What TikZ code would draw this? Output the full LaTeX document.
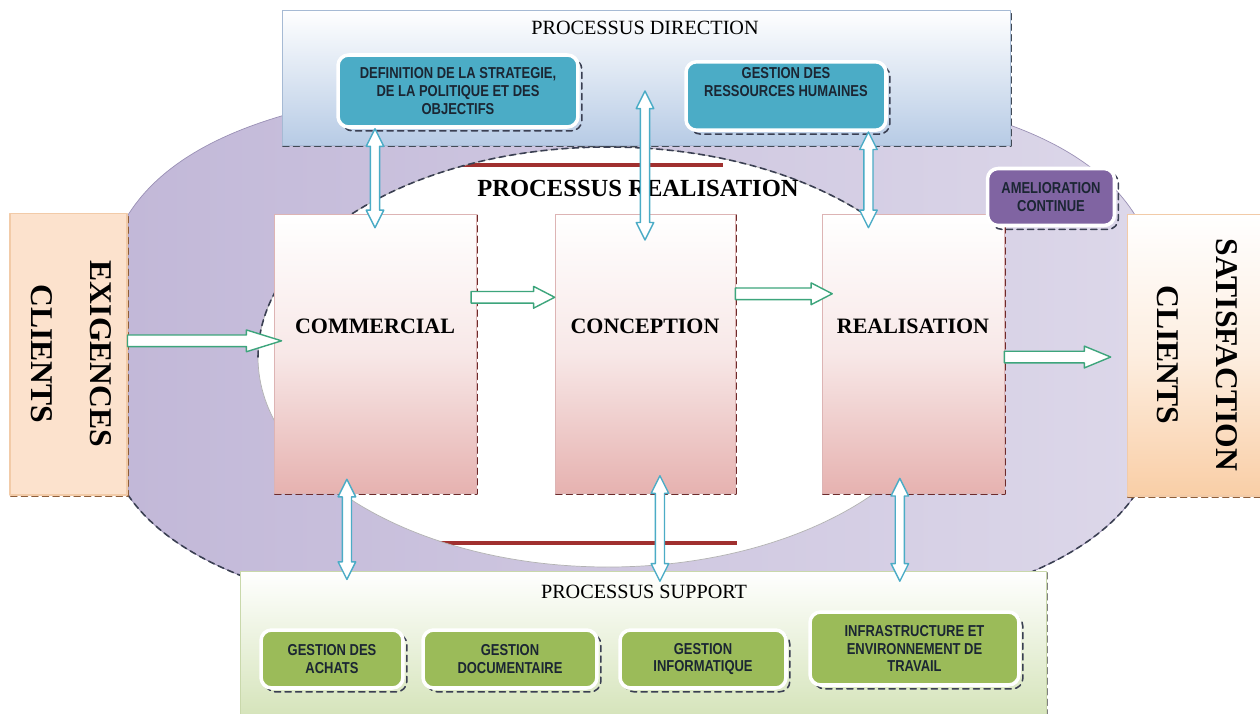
\documentclass[tikz,border=0pt]{standalone}
\usepackage{graphicx}
\usepackage{fontspec}
\setmainfont{Liberation Serif}
\newfontfamily\lblfont{Liberation Sans}[FakeStretch=0.82]
\usetikzlibrary{calc}
\definecolor{ovaldark}{HTML}{C2B8D8}
\definecolor{ovallight}{HTML}{DCD7E9}
\definecolor{ovalline}{HTML}{9A90B5}
\definecolor{dashgray}{HTML}{3A3F52}
\definecolor{barred}{HTML}{A0302F}
\definecolor{dirblue}{HTML}{B7CBE5}
\definecolor{dirline}{HTML}{A6BAD4}
\definecolor{dirteal}{HTML}{4BACC6}
\definecolor{procpink}{HTML}{E6B2B0}
\definecolor{procline}{HTML}{DDB4B4}
\definecolor{procdash}{HTML}{6E2A2A}
\definecolor{exigfill}{HTML}{FCE2CD}
\definecolor{satpeach}{HTML}{F9CEA6}
\definecolor{clientline}{HTML}{F2CBA8}
\definecolor{clientdash}{HTML}{8E5E3A}
\definecolor{suppgreen}{HTML}{D4E3B8}
\definecolor{suppline}{HTML}{C9D8AB}
\definecolor{taskgreen}{HTML}{9BBB59}
\definecolor{amelpurple}{HTML}{8064A2}
\definecolor{flowgreen}{HTML}{3DA57C}
\definecolor{inkdark}{HTML}{1B2633}
\tikzset{
  dshadow/.style={preaction={draw=#1, line width=0.9pt, dash pattern=on 3.5pt off 2.5pt,
      transform canvas={shift={(2.2pt,-2.2pt)}}}},
  dedge/.style={preaction={draw=#1, line width=0.9pt, dash pattern=on 3.5pt off 2.5pt,
      transform canvas={shift={(0.45pt,-0.45pt)}}}},
  hdr/.style={font=\fontsize{11.5}{13}\selectfont},
  procbox/.style={draw=procline, line width=0.4pt, top color=white, bottom color=procpink,
      middle color=procpink!30, dedge=procdash, minimum width=#1, minimum height=5.58cm,
      text depth=31pt, font=\fontsize{12.5}{14}\selectfont\bfseries},
  clientbox/.style={draw=clientline, line width=0.6pt, dedge=clientdash,
      font=\fontsize{18}{21.6}\selectfont\bfseries},
  taskbox/.style={rounded corners=6pt, draw=white, line width=2pt, dshadow=dashgray,
      align=center, text=inkdark, font=\lblfont\bfseries\fontsize{9}{10}\selectfont},
  ovaldash/.style={draw=dashgray, line width=0.9pt, dash pattern=on 3.5pt off 2.5pt},
  redbar/.style={draw=barred, line width=2.4pt, line cap=butt},
  flowarr/.style={draw=flowgreen, fill=white, line width=0.8pt},
  linkarr/.style={draw=dirteal, fill=white, line width=0.8pt},
}
\newcommand\hflow[3][12pt]{%
  \path[flowarr] let \p1=#2, \p2=#3 in
    (\x1,\y1+3.3pt) -- (\x2-#1,\y1+3.3pt) -- (\x2-#1,\y1+6.2pt) -- (\x2,\y1)
    -- (\x2-#1,\y1-6.2pt) -- (\x2-#1,\y1-3.3pt) -- (\x1,\y1-3.3pt) -- cycle;}
\newcommand\vlink[2]{%
  \path[linkarr] let \p1=#1, \p2=#2 in
    (\x1,\y1) -- (\x1+5pt,\y1-10pt) -- (\x1+2.6pt,\y1-10pt) -- (\x1+2.6pt,\y2+10pt)
    -- (\x1+5pt,\y2+10pt) -- (\x1,\y2) -- (\x1-5pt,\y2+10pt) -- (\x1-2.6pt,\y2+10pt)
    -- (\x1-2.6pt,\y1-10pt) -- (\x1-5pt,\y1-10pt) -- cycle;}
\begin{document}
\begin{tikzpicture}[line cap=round,line join=round,x=0.02cm,y=-0.02cm]
        \useasboundingbox (0,0) rectangle (1260,713);
        % large oval behind everything
        \shadedraw [draw=ovalline, line width=0.4pt, left color=ovaldark, right color=ovallight] (128,215) .. controls (200,100) and (420,80) .. (632,80) .. controls (845,80) and (1063,100) .. (1135,215) -- (1135,495) .. controls (1063,600) and (845,630) .. (632,630) .. controls (420,630) and (200,600) .. (128,495) -- cycle;
        \draw [ovaldash] (128,495) .. controls (200,600) and (420,630) .. (632,630);
        \draw [ovaldash] (1135,495) .. controls (1063,600) and (845,630) .. (632,630);
        \fill [white] (608,357) ellipse [x radius=350, y radius=210];
        \begin{scope}
          \clip (608,357) ellipse [x radius=350, y radius=210];
          \draw [redbar] (447,165) -- (723,165);
          \draw [redbar] (433,543) -- (737,543);
        \end{scope}
        \draw [draw=gray!60, line width=0.4pt] (608,357) ellipse [x radius=350, y radius=210];
        \draw [ovaldash] (258,357) arc [start angle=180, end angle=360, x radius=350, y radius=210];
        % direction
        \node [draw=dirline, line width=0.4pt, top color=white, bottom color=dirblue, dedge=dirline!40!black, minimum width=14.56cm, minimum height=2.7cm] (dir) at (646,77.5) {};
        \node [hdr] (dirhdr) at (645,28) {PROCESSUS DIRECTION};
        \node [taskbox, fill=dirteal, minimum width=4.8cm, minimum height=1.44cm] (defn) at (458,91) {DEFINITION DE LA STRATEGIE,\\DE LA POLITIQUE ET DES\\OBJECTIFS};
        \node [taskbox, fill=dirteal, minimum width=4cm, minimum height=1.36cm, text depth=16pt] (grh) at (786,96) {GESTION DES\\RESSOURCES HUMAINES};
        \node [font=\fontsize{14}{16}\selectfont\bfseries] (realhdr) at (638,188) {PROCESSUS REALISATION};
        % clients
        \node [clientbox, fill=exigfill, minimum width=2.34cm, minimum height=5.64cm] (exig) at (68.5,354) {\rotatebox{-90}{\begin{tabular}{@{}c@{}}EXIGENCES\\[12pt]CLIENTS\end{tabular}}};
        \node [clientbox, top color=white, bottom color=satpeach, middle color=satpeach!35, minimum width=2.7cm, minimum height=5.64cm] (sat) at (1194.5,355) {\rotatebox{-90}{\begin{tabular}{@{}c@{}}SATISFACTION\\[12pt]CLIENTS\end{tabular}}};
        % realisation
        \node [procbox=4.04cm] (comm) at (375,353.5) {COMMERCIAL};
        \node [procbox=3.6cm] (conc) at (645,353.5) {CONCEPTION};
        \node [procbox=3.64cm] (real) at (913,353.5) {REALISATION};
        \node [taskbox, fill=amelpurple, text=inkdark, minimum width=2.54cm, minimum height=1.14cm] (amel) at (1051,197) {AMELIORATION\\CONTINUE};
        % support
        \node [draw=suppline, line width=0.4pt, top color=white, bottom color=suppgreen, dedge=gray, minimum width=16.12cm, minimum height=3cm] (supp) at (643,646) {};
        \node [hdr] (supphdr) at (644,592) {PROCESSUS SUPPORT};
        \node [taskbox, fill=taskgreen, minimum width=2.84cm, minimum height=1.16cm] (achat) at (332,659) {GESTION DES\\ACHATS};
        \node [taskbox, fill=taskgreen, minimum width=3.48cm, minimum height=1.16cm] (docu) at (510,659) {GESTION\\DOCUMENTAIRE};
        \node [taskbox, fill=taskgreen, minimum width=3.32cm, minimum height=1.16cm] (info) at (703,659) {GESTION\\INFORMATIQUE};
        \node [taskbox, fill=taskgreen, minimum width=4.18cm, minimum height=1.46cm] (infra) at (914.5,648.5) {INFRASTRUCTURE ET\\ENVIRONNEMENT DE\\TRAVAIL};
        % flows
        \hflow[20pt]{([yshift=7.5pt]exig.east)}{([xshift=4.5pt]comm.west)}
        \hflow{([xshift=-3pt,yshift=32pt]comm.east)}{(conc.west)}
        \hflow{([yshift=34pt]conc.east)}{([xshift=6pt]real.west)}
        \hflow[15pt]{([yshift=-2pt]real.east)}{([xshift=-9pt]sat.west)}
        \vlink{(defn.south -| comm.north)}{([yshift=-8pt]comm.north)}
        \vlink{(conc.north |- defn.center)}{([yshift=-15pt]conc.north)}
        \vlink{([xshift=-11pt]grh.south east)}{([yshift=-8pt]real.north)}
        \vlink{([xshift=-16pt,yshift=8pt]comm.south)}{([yshift=-5pt]supp.north)}
        \vlink{([xshift=8.5pt,yshift=10pt]conc.south)}{([yshift=-6pt]supp.north)}
        \vlink{([xshift=-7.5pt,yshift=8.5pt]real.south)}{([yshift=-6pt]supp.north)}
\end{tikzpicture}
\end{document}
